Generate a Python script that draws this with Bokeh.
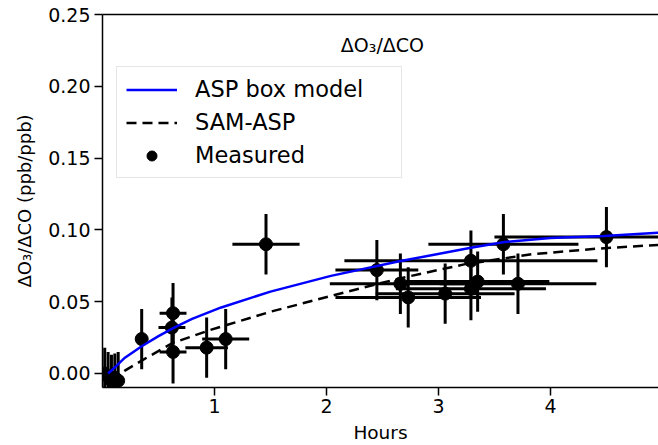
import numpy as np
from bokeh.plotting import figure
from bokeh.models import (Range1d, LinearAxis, FixedTicker, Legend, LegendItem,
                          Label, NumeralTickFormatter)
from bokeh.embed import file_html
from bokeh.resources import INLINE

# ASP box model (blue solid)
asp_hours = [0.05, 0.12, 0.2, 0.35, 0.5, 0.64, 0.8, 1.06, 1.5, 2.04, 2.64, 3.29, 3.59, 4.0, 4.48, 4.97]
asp_ratio = [0.0, 0.005, 0.011, 0.019, 0.026, 0.032, 0.038, 0.046, 0.057, 0.068, 0.078, 0.0875, 0.0915, 0.0943, 0.0958, 0.098]

# SAM-ASP (black dashed)
sam_hours = [0.08, 0.2, 0.35, 0.62, 0.95, 1.5, 2.04, 2.64, 3.23, 3.83, 4.43, 4.97]
sam_ratio = [-0.005, 0.002, 0.009, 0.021, 0.030, 0.043, 0.054, 0.066, 0.076, 0.083, 0.087, 0.0896]

# Measured points with error bars
meas_hours = [0.02, 0.05, 0.08, 0.11, 0.14, 0.35, 0.63, 0.62, 0.63, 0.93, 1.10, 1.46,
              2.45, 2.66, 2.73, 3.06, 3.29, 3.35, 3.71, 3.29, 3.58, 4.50]
meas_ratio = [0.0, -0.002, -0.005, -0.003, -0.005, 0.024, 0.042, 0.032, 0.015, 0.018, 0.024, 0.090,
              0.072, 0.0625, 0.053, 0.0556, 0.059, 0.064, 0.0625, 0.0785, 0.090, 0.095]
meas_xerr = [0.02, 0.02, 0.02, 0.02, 0.02, 0.05, 0.12, 0.12, 0.12, 0.19, 0.21, 0.30,
             0.37, 0.63, 0.65, 0.62, 0.67, 0.64, 0.70, 1.13, 0.67, 1.00]
meas_yerr = [0.018, 0.017, 0.018, 0.017, 0.02, 0.021, 0.021, 0.021, 0.022, 0.021, 0.021, 0.021,
             0.021, 0.021, 0.021, 0.021, 0.022, 0.021, 0.021, 0.021, 0.021, 0.021]

x_ticks = [1, 2, 3, 4, 5]
y_ticks = [0.0, 0.05, 0.10, 0.15, 0.20, 0.25]

FONT = "DejaVu Sans"

p = figure(width=658, height=445, output_backend="svg", toolbar_location=None,
           x_range=Range1d(0, 4.965), y_range=Range1d(-0.00975, 0.25),
           min_border_left=102, min_border_right=0, min_border_top=14, min_border_bottom=58)
p.background_fill_color = "white"
p.border_fill_color = "white"
p.outline_line_color = None
p.grid.visible = False

mx = np.array(meas_hours); my = np.array(meas_ratio)
xe = np.array(meas_xerr); ye = np.array(meas_yerr)
p.segment(mx - xe, my, mx + xe, my, line_color="black", line_width=3)
p.segment(mx, my - ye, mx, my + ye, line_color="black", line_width=3)
r_meas = p.scatter(meas_hours, meas_ratio, size=13, color="black")

r_asp = p.line(asp_hours, asp_ratio, line_color="#0000ff", line_width=2.5)
r_sam = p.line(sam_hours, sam_ratio, line_color="black", line_width=2.5, line_dash="10 6")

for ax in (p.xaxis[0], p.yaxis[0]):
    ax.axis_line_width = 1.5
    ax.major_tick_line_width = 1.5
    ax.major_tick_out = 8
    ax.major_tick_in = 0
    ax.minor_tick_line_color = None
    ax.major_label_text_font = FONT
    ax.major_label_text_font_size = "19px"
    ax.major_label_text_color = "black"
    ax.axis_label_text_font = FONT
    ax.axis_label_text_font_style = "normal"
    ax.axis_label_text_color = "black"

p.xaxis[0].ticker = FixedTicker(ticks=x_ticks)
p.xaxis[0].axis_label = "Hours"
p.xaxis[0].axis_label_text_font_size = "18.5px"
p.xaxis[0].major_label_standoff = 3
p.xaxis[0].axis_label_standoff = 6

p.yaxis[0].ticker = FixedTicker(ticks=y_ticks)
p.yaxis[0].formatter = NumeralTickFormatter(format="0.00")
p.yaxis[0].axis_label = "ΔO₃/ΔCO (ppb/ppb)"
p.yaxis[0].axis_label_text_font_size = "18px"
p.yaxis[0].major_label_standoff = 4
p.yaxis[0].axis_label_standoff = 10

top = LinearAxis(axis_line_width=1.5, major_tick_line_color=None, minor_tick_line_color=None,
                 major_label_text_font_size="0px", major_label_text_color=None,
                 ticker=FixedTicker(ticks=[]))
p.add_layout(top, "above")

p.add_layout(Label(x=2.5, y=0.2285, text="ΔO₃/ΔCO", text_align="center", text_baseline="middle",
                   text_font=FONT, text_font_size="19px", text_color="black"))

# partially visible caption cut by the bottom edge
p.add_layout(Label(x=400, y=-47, x_units="screen", y_units="screen", text="Legend l",
                   text_align="left", text_baseline="top", level="overlay",
                   text_font=FONT, text_font_size="30px", text_font_style="bold",
                   text_color="black"))

legend = Legend(items=[LegendItem(label="ASP box model", renderers=[r_asp]),
                       LegendItem(label="SAM-ASP", renderers=[r_sam]),
                       LegendItem(label="Measured", renderers=[r_meas])],
                location=(14, 209))
legend.label_text_font = FONT
legend.label_text_font_size = "22.5px"
legend.label_text_color = "black"
legend.glyph_width = 51
legend.glyph_height = 25
legend.label_height = 25
legend.label_standoff = 18
legend.label_width = 197
legend.spacing = 7
legend.padding = 9
legend.margin = 0
legend.border_line_color = "#cccccc"
legend.border_line_width = 1
legend.background_fill_alpha = 0.8
p.add_layout(legend, "center")

open("out.html", "w").write(file_html(p, INLINE))
